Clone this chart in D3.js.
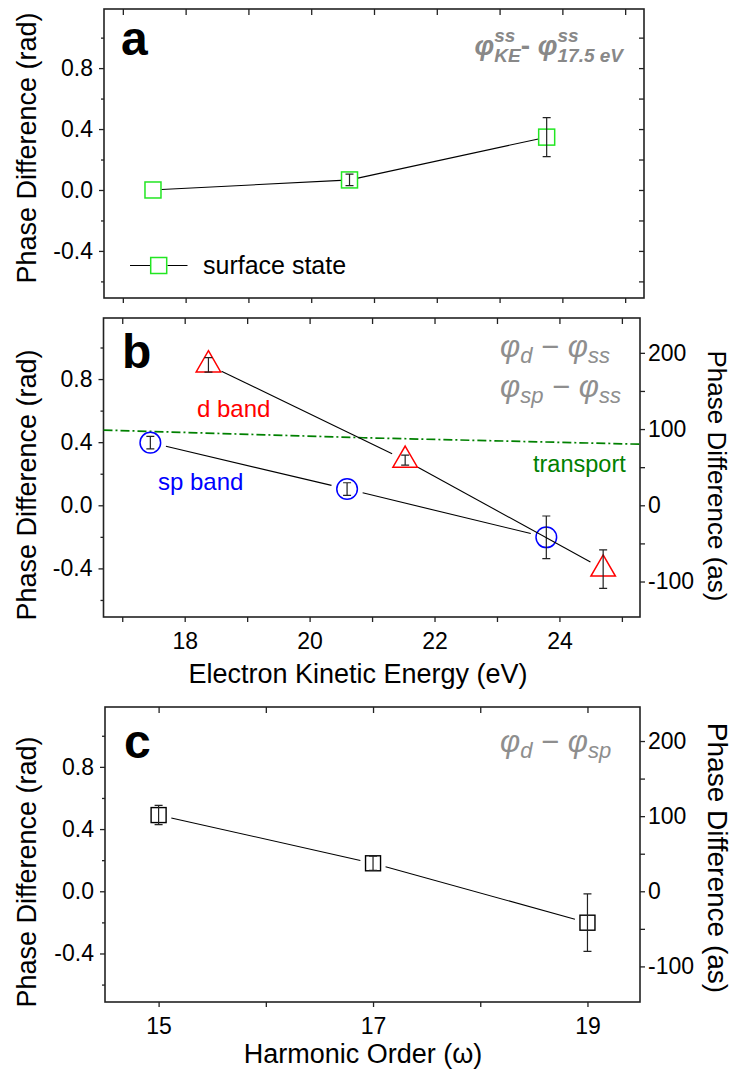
<!DOCTYPE html>
<html><head><meta charset="utf-8">
<script src="https://cdn.jsdelivr.net/npm/d3@7"></script>
<style>
body{margin:0;background:#fff}
text{font-family:"Liberation Sans",Arial,sans-serif;white-space:pre}
</style>
</head><body><script>
// ---------------- data ----------------
const ssEnergy=[17.48,20.61,23.75];
const ssPhase=[0.0,0.066,0.347];
const ssErr=[0,0.038,0.128];

const spEnergy=[17.45,20.60,23.79];
const spPhase=[0.397,0.103,-0.203];
const spErr=[0.04,0.04,0.135];

const dEnergy=[18.38,21.53,24.70];
const dPhase=[0.89,0.286,-0.404];
const dErr=[0.046,0.032,0.122];

const transportEnergy=[16.7,20.86,25.3];
const transportPhase=[0.477,0.428,0.387];

const harmonicOrder=[15,17,19];
const dspPhase=[0.49,0.18,-0.202];
const dspErr=[0.062,0.046,0.185];

const radTicks=[-0.4,0.0,0.4,0.8];
const radMinorTicks=[-0.6,-0.2,0.2,0.6,1.0];
const asTicks=[-100,0,100,200];
const asMinorTicks=[-50,50,150];
const energyTicks=[18,20,22,24];
const energyMinorTicks=[17,19,21,23,25];
const harmonicTicks=[15,17,19];
const harmonicMinorTicks=[16,18];
const AS_PER_RAD=207;

const yTitle="Phase Difference (rad)";
const yTitleRight="Phase Difference (as)";
const xTitleB="Electron Kinetic Energy (eV)";
const xTitleC="Harmonic Order (\u03c9)";

// ---------------- setup ----------------
const W=732,H=1071;
const svg=d3.select("body").append("svg").attr("width",W).attr("height",H);
const AX="#222";
const MATHFONT='"Liberation Serif","DejaVu Serif",serif';
const GRAY="#8e8e8e";

function styleAxis(sel){
  sel.select(".domain").remove();
  sel.selectAll(".tick line").attr("stroke",AX).attr("stroke-width",1.3);
  sel.selectAll(".tick text").attr("fill","#000").attr("font-size",23)
     .attr("font-family",'"Liberation Sans",Arial,sans-serif');
}

function makePanel(c){
  const g=svg.append("g");
  const x=d3.scaleLinear().domain(c.xDomain).range([c.x0,c.x1]);
  const y=d3.scaleLinear().domain(c.yDomain).range([c.y1,c.y0]);
  const fmt=d=>d.toFixed(1);
  g.append("g").attr("transform",`translate(${c.x0},0)`)
    .call(d3.axisLeft(y).tickValues(radTicks).tickSize(5).tickPadding(6).tickFormat(fmt)).call(styleAxis);
  g.append("g").attr("transform",`translate(${c.x0},0)`)
    .call(d3.axisLeft(y).tickValues(radMinorTicks).tickSize(3).tickFormat("")).call(styleAxis);
  g.append("g").attr("transform",`translate(0,${c.y0})`)
    .call(d3.axisBottom(x).tickValues(c.xMajor.concat(c.xMinor)).tickSize(6).tickFormat("")).call(styleAxis);
  g.append("g").attr("transform",`translate(0,${c.y1})`)
    .call(d3.axisBottom(x).tickValues(c.xMajor).tickSize(5).tickPadding(11).tickFormat(c.xLabels?d3.format("d"):"")).call(styleAxis);
  g.append("g").attr("transform",`translate(0,${c.y1})`)
    .call(d3.axisBottom(x).tickValues(c.xMinor).tickSize(5).tickFormat("")).call(styleAxis);
  let y2=null;
  if(c.rightAs){
    y2=d3.scaleLinear().domain(c.yDomain.map(v=>v*AS_PER_RAD)).range([c.y1,c.y0]);
    g.append("g").attr("transform",`translate(${c.x1},0)`)
      .call(d3.axisRight(y2).tickValues(asTicks).tickSize(5).tickPadding(3).tickFormat(d=>String(d))).call(styleAxis);
    g.append("g").attr("transform",`translate(${c.x1},0)`)
      .call(d3.axisRight(y2).tickValues(asMinorTicks).tickSize(5).tickFormat("")).call(styleAxis);
  } else {
    g.append("g").attr("transform",`translate(${c.x1},0)`)
      .call(d3.axisLeft(y).tickValues(radTicks.concat(radMinorTicks)).tickSize(5).tickFormat("")).call(styleAxis);
  }
  g.append("rect").attr("x",c.x0).attr("y",c.y0).attr("width",c.x1-c.x0).attr("height",c.y1-c.y0)
    .attr("fill","none").attr("stroke",AX).attr("stroke-width",1.6);
  g.append("text").attr("x",c.letterX).attr("y",c.letterY).attr("font-size",48).attr("font-weight","bold")
    .attr("font-family",'"Liberation Sans Narrow","Arial Narrow","Liberation Sans",Arial,sans-serif')
    .attr("fill","#000").text(c.letter);
  g.append("text").attr("transform",`translate(36,${c.yTitleY}) rotate(-90)`).attr("text-anchor","middle")
    .attr("font-size",27).attr("fill","#000").text(yTitle);
  if(c.rightAs){
    g.append("text").attr("transform",`translate(708,${c.yTitleRY}) rotate(90)`).attr("text-anchor","middle")
      .attr("font-size",c.yTitleRSize||26).attr("fill","#000").text(yTitleRight);
  }
  return {g,x,y,y2};
}

function gappedLine(g,xs,ys,x,y,gap){
  const pts=xs.map((v,i)=>[x(v),y(ys[i])]);
  const line=d3.line();
  for(let i=0;i<pts.length-1;i++){
    const [ax,ay]=pts[i],[bx,by]=pts[i+1];
    const dx=bx-ax,dy=by-ay,L=Math.hypot(dx,dy),ux=dx/L,uy=dy/L;
    g.append("path").attr("d",line([[ax+ux*gap,ay+uy*gap],[bx-ux*gap,by-uy*gap]]))
      .attr("fill","none").attr("stroke","#000").attr("stroke-width",1.1);
  }
}
function errorBars(g,xs,ys,es,x,y){
  xs.forEach((v,i)=>{
    const e=es[i]; if(!e) return;
    const cx=x(v),t=y(ys[i]+e),b=y(ys[i]-e);
    const p=`M${cx},${t}V${b}M${cx-4},${t}H${cx+4}M${cx-4},${b}H${cx+4}`;
    g.append("path").attr("d",p).attr("fill","none").attr("stroke","#222").attr("stroke-width",1.2);
  });
}
function squares(g,xs,ys,x,y,size,color,sw){
  g.selectAll(null).data(xs).enter().append("rect")
    .attr("x",(d)=>x(d)-size/2).attr("y",(d,i)=>y(ys[i])-size/2)
    .attr("width",size).attr("height",size).attr("fill","none").attr("stroke",color).attr("stroke-width",sw);
}
function circles(g,xs,ys,x,y,r,color){
  g.selectAll(null).data(xs).enter().append("circle")
    .attr("cx",d=>x(d)).attr("cy",(d,i)=>y(ys[i])).attr("r",r)
    .attr("fill","none").attr("stroke",color).attr("stroke-width",1.5);
}
function triangles(g,xs,ys,x,y,side,color){
  const h=side*Math.sqrt(3)/2;
  g.selectAll(null).data(xs).enter().append("path")
    .attr("d",(d,i)=>{const cx=x(d),cy=y(ys[i]);
      return `M${cx},${cy-2*h/3}L${cx+side/2},${cy+h/3}L${cx-side/2},${cy+h/3}Z`;})
    .attr("fill","none").attr("stroke",color).attr("stroke-width",1.5);
}
function mathText(g,x,y,parts,o){
  const grp=g.append("g").attr("fill",o.color).attr("font-weight",o.weight||"normal");
  const subDy=o.subDy!==undefined?o.subDy:0.25;
  let cx=0;
  parts.forEach(p=>{
    if(p.t!==undefined){
      const te=grp.append("text").attr("x",cx).attr("y",0).attr("font-size",o.size)
        .attr("font-family",MATHFONT).attr("font-style",p.upright?"normal":"italic").text(p.t);
      cx+=te.node().getComputedTextLength();
    } else {
      let w=0;
      if(p.sup){const te=grp.append("text").attr("x",cx).attr("y",-o.size*0.45).attr("font-size",o.sub)
        .attr("font-family",MATHFONT).attr("font-style","italic").text(p.sup);
        w=Math.max(w,te.node().getComputedTextLength());}
      if(p.sub){const te=grp.append("text").attr("x",cx).attr("y",o.size*subDy).attr("font-size",o.sub)
        .attr("font-family",MATHFONT).attr("font-style","italic").text(p.sub);
        w=Math.max(w,te.node().getComputedTextLength());}
      cx+=w;
    }
  });
  const tx=o.anchor==="end"?x-cx:x;
  grp.attr("transform",`translate(${tx},${y})`);
}

// ---------------- panel a ----------------
const A=makePanel({x0:104,x1:644,y0:9,y1:298,xDomain:[16.70,25.30],yDomain:[-0.709,1.188],
  xMajor:energyTicks,xMinor:energyMinorTicks,xLabels:false,rightAs:false,
  letter:"a",letterX:121,letterY:55,yTitleY:148});
gappedLine(A.g,ssEnergy,ssPhase,A.x,A.y,8.5);
squares(A.g,ssEnergy,ssPhase,A.x,A.y,16,"#22e622",1.5);
errorBars(A.g,ssEnergy,ssPhase,ssErr,A.x,A.y);
A.g.append("path").attr("d","M130,265.5H150M167.5,265.5H187.5").attr("stroke","#000").attr("stroke-width",1.1);
A.g.append("rect").attr("x",150.7).attr("y",257.5).attr("width",16).attr("height",16)
  .attr("fill","none").attr("stroke","#22e622").attr("stroke-width",1.5);
A.g.append("text").attr("x",203).attr("y",274).attr("font-size",25).attr("fill","#000").text("surface state");
mathText(A.g,623,55,[{t:"\u03c6"},{sup:"ss",sub:"KE"},{t:"- ",upright:true},{t:"\u03c6"},{sup:"ss",sub:"17.5 eV"}],
  {color:"#888",size:28,sub:19,weight:"bold",anchor:"end"});

// ---------------- panel b ----------------
const B=makePanel({x0:103.5,x1:640,y0:318,y1:617,xDomain:[16.70,25.29],yDomain:[-0.708,1.187],
  xMajor:energyTicks,xMinor:energyMinorTicks,xLabels:true,rightAs:true,
  letter:"b",letterX:122,letterY:368,yTitleY:485,yTitleRY:476});
B.g.append("path").datum(transportEnergy.map((e,i)=>[B.x(e),B.y(transportPhase[i])]))
  .attr("d",d3.line()).attr("fill","none").attr("stroke","#008000").attr("stroke-width",1.7)
  .attr("stroke-dasharray","9,3,2,3");
gappedLine(B.g,spEnergy,spPhase,B.x,B.y,16);
circles(B.g,spEnergy,spPhase,B.x,B.y,10.3,"#0000ff");
errorBars(B.g,spEnergy,spPhase,spErr,B.x,B.y);
gappedLine(B.g,dEnergy,dPhase,B.x,B.y,14.5);
triangles(B.g,dEnergy,dPhase,B.x,B.y,24.5,"#ff0000");
errorBars(B.g,dEnergy,dPhase,dErr,B.x,B.y);
B.g.append("text").attr("x",197).attr("y",417).attr("font-size",24).attr("fill","#ff0000").text("d band");
B.g.append("text").attr("x",158).attr("y",490).attr("font-size",24).attr("fill","#0000ff").text("sp band");
B.g.append("text").attr("x",533).attr("y",472).attr("font-size",23.5).attr("fill","#008000").text("transport");
mathText(B.g,500,357,[{t:"\u03c6"},{sub:"d"},{t:" \u2212 ",upright:true},{t:"\u03c6"},{sub:"ss"}],
  {color:GRAY,size:31,sub:22,subDy:0.2});
mathText(B.g,500,397,[{t:"\u03c6"},{sub:"sp"},{t:" \u2212 ",upright:true},{t:"\u03c6"},{sub:"ss"}],
  {color:GRAY,size:31,sub:22,subDy:0.2});
B.g.append("text").attr("x",358).attr("y",683).attr("text-anchor","middle").attr("font-size",27)
  .attr("fill","#000").text(xTitleB);

// ---------------- panel c ----------------
const C=makePanel({x0:105,x1:640,y0:707,y1:1002,xDomain:[14.5,19.49],yDomain:[-0.712,1.185],
  xMajor:harmonicTicks,xMinor:harmonicMinorTicks,xLabels:true,rightAs:true,
  letter:"c",letterX:124,letterY:758,yTitleY:872,yTitleRY:858,yTitleRSize:28});
gappedLine(C.g,harmonicOrder,dspPhase,C.x,C.y,13);
squares(C.g,harmonicOrder,dspPhase,C.x,C.y,15,"#000",1.4);
errorBars(C.g,harmonicOrder,dspPhase,dspErr,C.x,C.y);
mathText(C.g,500,752,[{t:"\u03c6"},{sub:"d"},{t:" \u2212 ",upright:true},{t:"\u03c6"},{sub:"sp"}],
  {color:GRAY,size:31,sub:22,subDy:0.2});
C.g.append("text").attr("x",363).attr("y",1063).attr("text-anchor","middle").attr("font-size",27)
  .attr("fill","#000").text(xTitleC);
</script></body></html>
